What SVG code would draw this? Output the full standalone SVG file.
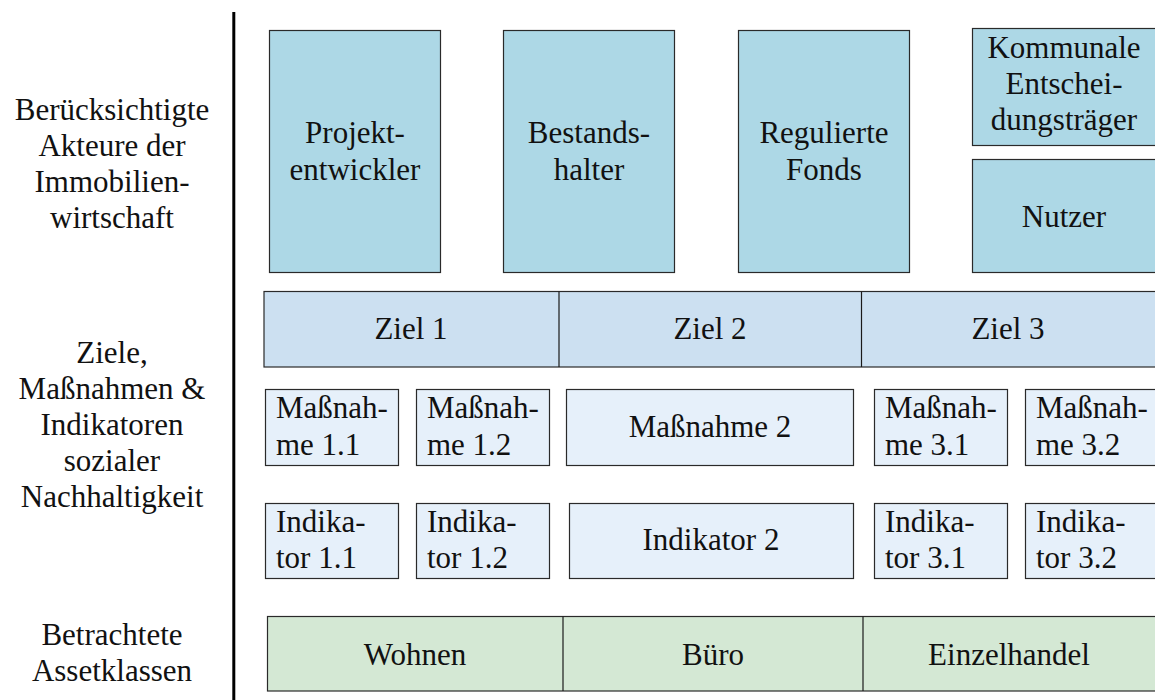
<svg xmlns="http://www.w3.org/2000/svg" width="1155" height="700" viewBox="0 0 1155 700">
<style>
text{font-family:"Liberation Serif","Times New Roman",serif;font-size:31px;fill:#111;}
.c{text-anchor:middle;}
.box{stroke:#2a2a2a;stroke-width:1.2;}
.actor{fill:#ADD8E6;}
.goal{fill:#CCE0F1;}
.meas{fill:#E6F0FA;}
.asset{fill:#D4E8D4;}
.div{stroke:#1a1a1a;stroke-width:1.2;}
</style>
<rect width="1155" height="700" fill="#fff"/>
<g id="separator"><line x1="233.8" y1="12" x2="233.8" y2="700" stroke="#000" stroke-width="3"/></g>
<g id="labels">
<text class="c" x="112" y="120">Berücksichtigte</text>
<text class="c" x="112" y="156">Akteure der</text>
<text class="c" x="112" y="192">Immobilien-</text>
<text class="c" x="112" y="228">wirtschaft</text>
<text class="c" x="112" y="363">Ziele,</text>
<text class="c" x="112" y="399">Maßnahmen &amp;</text>
<text class="c" x="112" y="435">Indikatoren</text>
<text class="c" x="112" y="471">sozialer</text>
<text class="c" x="112" y="507">Nachhaltigkeit</text>
<text class="c" x="112" y="645">Betrachtete</text>
<text class="c" x="112" y="681">Assetklassen</text>
</g>
<g id="projektentwickler"><rect class="box actor" x="269.5" y="30.5" width="171" height="242"/><text class="c" x="355" y="143">Projekt-</text><text class="c" x="355" y="180">entwickler</text></g>
<g id="bestandshalter"><rect class="box actor" x="503.5" y="30.5" width="171" height="242"/><text class="c" x="589" y="143">Bestands-</text><text class="c" x="589" y="180">halter</text></g>
<g id="fonds"><rect class="box actor" x="738.5" y="30.5" width="171" height="242"/><text class="c" x="824" y="143">Regulierte</text><text class="c" x="824" y="180">Fonds</text></g>
<g id="kommunale"><rect class="box actor" x="972.5" y="28.5" width="200" height="117"/><text class="c" x="1064" y="58">Kommunale</text><text class="c" x="1064" y="94">Entschei-</text><text class="c" x="1064" y="130">dungsträger</text></g>
<g id="nutzer"><rect class="box actor" x="972.5" y="159.5" width="200" height="113"/><text class="c" x="1064" y="227">Nutzer</text></g>
<g id="ziele">
<rect class="box goal" x="264" y="291.5" width="910" height="75.5"/>
<line class="div" x1="559" y1="291.5" x2="559" y2="367"/>
<line class="div" x1="861.5" y1="291.5" x2="861.5" y2="367"/>
<text class="c" x="411" y="339">Ziel 1</text>
<text class="c" x="710" y="339">Ziel 2</text>
<text class="c" x="1008" y="339">Ziel 3</text>
</g>
<g id="m11"><rect class="box meas" x="265.5" y="389.5" width="133" height="76"/><text x="276" y="418">Maßnah-</text><text x="276" y="455">me 1.1</text></g>
<g id="m12"><rect class="box meas" x="416.5" y="389.5" width="133" height="76"/><text x="427" y="418">Maßnah-</text><text x="427" y="455">me 1.2</text></g>
<g id="m2"><rect class="box meas" x="566.5" y="389.5" width="287" height="76"/><text class="c" x="710" y="437">Maßnahme 2</text></g>
<g id="m31"><rect class="box meas" x="874.5" y="389.5" width="133" height="76"/><text x="885" y="418">Maßnah-</text><text x="885" y="455">me 3.1</text></g>
<g id="m32"><rect class="box meas" x="1025.5" y="389.5" width="150" height="76"/><text x="1036" y="418">Maßnah-</text><text x="1036" y="455">me 3.2</text></g>
<g id="i11"><rect class="box meas" x="265.5" y="503.5" width="133" height="75"/><text x="276" y="532">Indika-</text><text x="276" y="568">tor 1.1</text></g>
<g id="i12"><rect class="box meas" x="416.5" y="503.5" width="133" height="75"/><text x="427" y="532">Indika-</text><text x="427" y="568">tor 1.2</text></g>
<g id="i2"><rect class="box meas" x="569.5" y="503.5" width="284" height="75"/><text class="c" x="711" y="550">Indikator 2</text></g>
<g id="i31"><rect class="box meas" x="874.5" y="503.5" width="133" height="75"/><text x="885" y="532">Indika-</text><text x="885" y="568">tor 3.1</text></g>
<g id="i32"><rect class="box meas" x="1025.5" y="503.5" width="150" height="75"/><text x="1036" y="532">Indika-</text><text x="1036" y="568">tor 3.2</text></g>
<g id="assets">
<rect class="box asset" x="267.5" y="616.5" width="910" height="74.5"/>
<line class="div" x1="563" y1="616.5" x2="563" y2="691"/>
<line class="div" x1="863" y1="616.5" x2="863" y2="691"/>
<text class="c" x="415" y="665">Wohnen</text>
<text class="c" x="713" y="665">Büro</text>
<text class="c" x="1009" y="665">Einzelhandel</text>
</g>
<g id="connectors"/>
</svg>
